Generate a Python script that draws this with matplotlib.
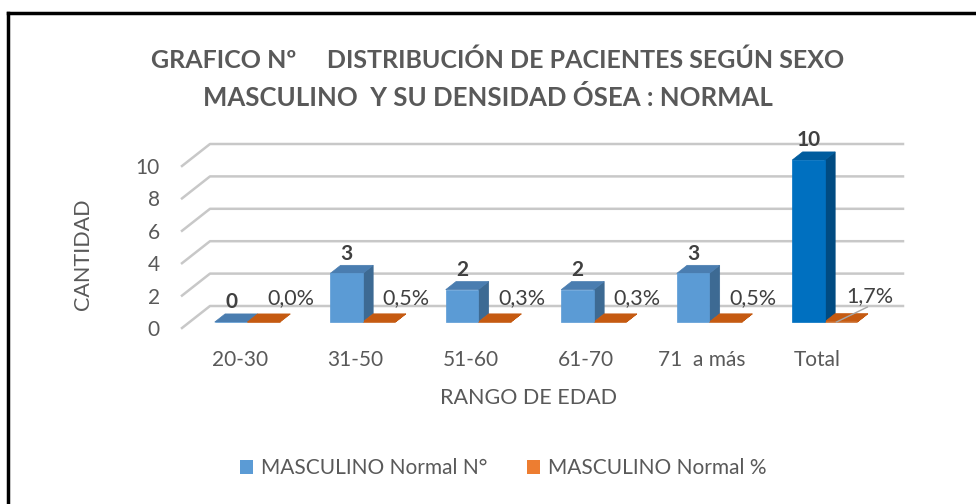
import matplotlib.pyplot as plt
from matplotlib.patches import Polygon, Patch
from matplotlib.lines import Line2D

plt.rcParams['font.family'] = ['Lato', 'DejaVu Sans']

categorias = ["20-30", "31-50", "51-60", "61-70", "71  a más", "Total"]
masc_n = [0, 3, 2, 2, 3, 10]
masc_pct = [0.000, 0.005, 0.003, 0.003, 0.005, 0.017]
etiquetas_pct = ["0,0%", "0,5%", "0,3%", "0,3%", "0,5%", "1,7%"]

TXT = "#595959"
LBL = "#404040"
GRID = "#c8c8c8"
# colores (frente, lado, tapa)
AZUL = ("#5b9bd5", "#3d6a93", "#4a7db0")
AZUL_TOTAL = ("#0070c0", "#004b82", "#005c9e")
NARANJA_TAPA = "#c55a11"

# profundidad en pixeles (piso completo) y posicion de las barras dentro
DX, DY = 28, 22
D0, D1 = 0.27, 0.64
W = 0.282

fig = plt.figure(figsize=(9.76, 5.04), dpi=100)
ax = fig.add_axes([182 / 976, 176 / 504, 693 / 976, 162 / 504])
ax.set_xlim(-0.5, 5.5)
ax.set_ylim(0, 10)
for s in ax.spines.values():
    s.set_visible(False)

o = ax.transData.transform((0, 0))
ppx = ax.transData.transform((1, 0))[0] - o[0]
ppy = ax.transData.transform((0, 1))[1] - o[1]
ddx, ddy = DX / ppx, DY / ppy


def P(x, y, d):
    return (x + d * ddx, y + d * ddy)


def poly(pts, color, z=3):
    ax.add_patch(Polygon(pts, closed=True, facecolor=color, edgecolor=color,
                         lw=0.5, clip_on=False, zorder=z))


def caja(xl, h, cols):
    fr, lado, tapa = cols
    poly([P(xl, 0, D0), P(xl + W, 0, D0), P(xl + W, h, D0), P(xl, h, D0)], fr, 4)
    poly([P(xl + W, 0, D0), P(xl + W, 0, D1), P(xl + W, h, D1), P(xl + W, h, D0)], lado, 3)
    poly([P(xl, h, D0), P(xl + W, h, D0), P(xl + W, h, D1), P(xl, h, D1)], tapa, 3)


# cuadricula: pared izquierda + pared del fondo
for v in range(0, 11, 2):
    xs, ys = zip(P(-0.5, v, 0), P(-0.5, v, 1), P(5.5, v, 1))
    ax.add_line(Line2D(xs, ys, color=GRID, lw=1.8, clip_on=False, zorder=1))

for i, (n, p) in enumerate(zip(masc_n, masc_pct)):
    cols = AZUL_TOTAL if categorias[i] == "Total" else AZUL
    caja(i - W, n, cols)
    caja(i, p, (NARANJA_TAPA, NARANJA_TAPA, NARANJA_TAPA))
    # etiqueta N
    cx, cy = P(i - W / 2, n, D1)
    ax.text(i - W / 2 + D0 * ddx, cy + 0.1, str(n), ha="center", va="bottom",
            fontsize=15, fontweight="bold", color=LBL, zorder=6)

    # etiqueta %
    if categorias[i] == "Total":
        x0, y0 = P(i + 0.1, 0, D0)
        x1, y1 = x0 + 31 / ppx, y0 + 15 / ppy
        ax.add_line(Line2D([x0, x1], [y0, y1], color="#a6a6a6", lw=1,
                           clip_on=False, zorder=5))
        ax.text(x1 + 2 / ppx, y1 + 0.05, etiquetas_pct[i], ha="center", va="bottom",
                fontsize=15.5, color=LBL, zorder=6)
    else:
        ax.text(i + W / 2 + D0 * ddx + 27 / ppx, 30 / ppy, etiquetas_pct[i],
                ha="center", va="center", fontsize=15.5, color=LBL, zorder=6)

ax.set_yticks(range(0, 11, 2))
ax.set_xticks(range(len(categorias)), categorias)
ax.tick_params(axis="y", length=0, pad=16, labelsize=15, labelcolor=TXT)
ax.tick_params(axis="x", length=0, pad=16, labelsize=15, labelcolor=TXT)

ax.set_ylabel("CANTIDAD", fontsize=15.5, color=TXT)
ax.yaxis.set_label_coords(-0.128, 0.457)
ax.set_xlabel("RANGO DE EDAD", fontsize=15.5, color=TXT)
ax.xaxis.set_label_coords(0.5, -0.37)

fig.text(498 / 976, 1 - 60 / 504, "GRAFICO Nº     DISTRIBUCIÓN DE PACIENTES SEGÚN SEXO",
         ha="center", va="center", fontsize=18, fontweight="bold", color=TXT)
fig.text(488 / 976, 1 - 97 / 504, "MASCULINO  Y SU DENSIDAD ÓSEA : NORMAL",
         ha="center", va="center", fontsize=18.5, fontweight="bold", color=TXT)

handles = [Patch(facecolor="#5b9bd5", label="MASCULINO Normal N°"),
           Patch(facecolor="#ed7d31", label="MASCULINO Normal %")]
fig.legend(handles=handles, loc="center", bbox_to_anchor=(503 / 976, 1 - 468 / 504),
           ncol=2, frameon=False, fontsize=15, labelcolor=TXT,
           handlelength=0.65, handleheight=0.65, handletextpad=0.35, columnspacing=1.9)

# marco (solo borde superior e izquierdo visibles)
fig.add_artist(Line2D([8 / 976, 8 / 976], [0, 1 - 13 / 504], color="black", lw=2.5,
                      transform=fig.transFigure))
fig.add_artist(Line2D([8 / 976, 1], [1 - 13 / 504, 1 - 13 / 504], color="black", lw=2.5,
                      transform=fig.transFigure))

fig.savefig("out.png", dpi=100)
